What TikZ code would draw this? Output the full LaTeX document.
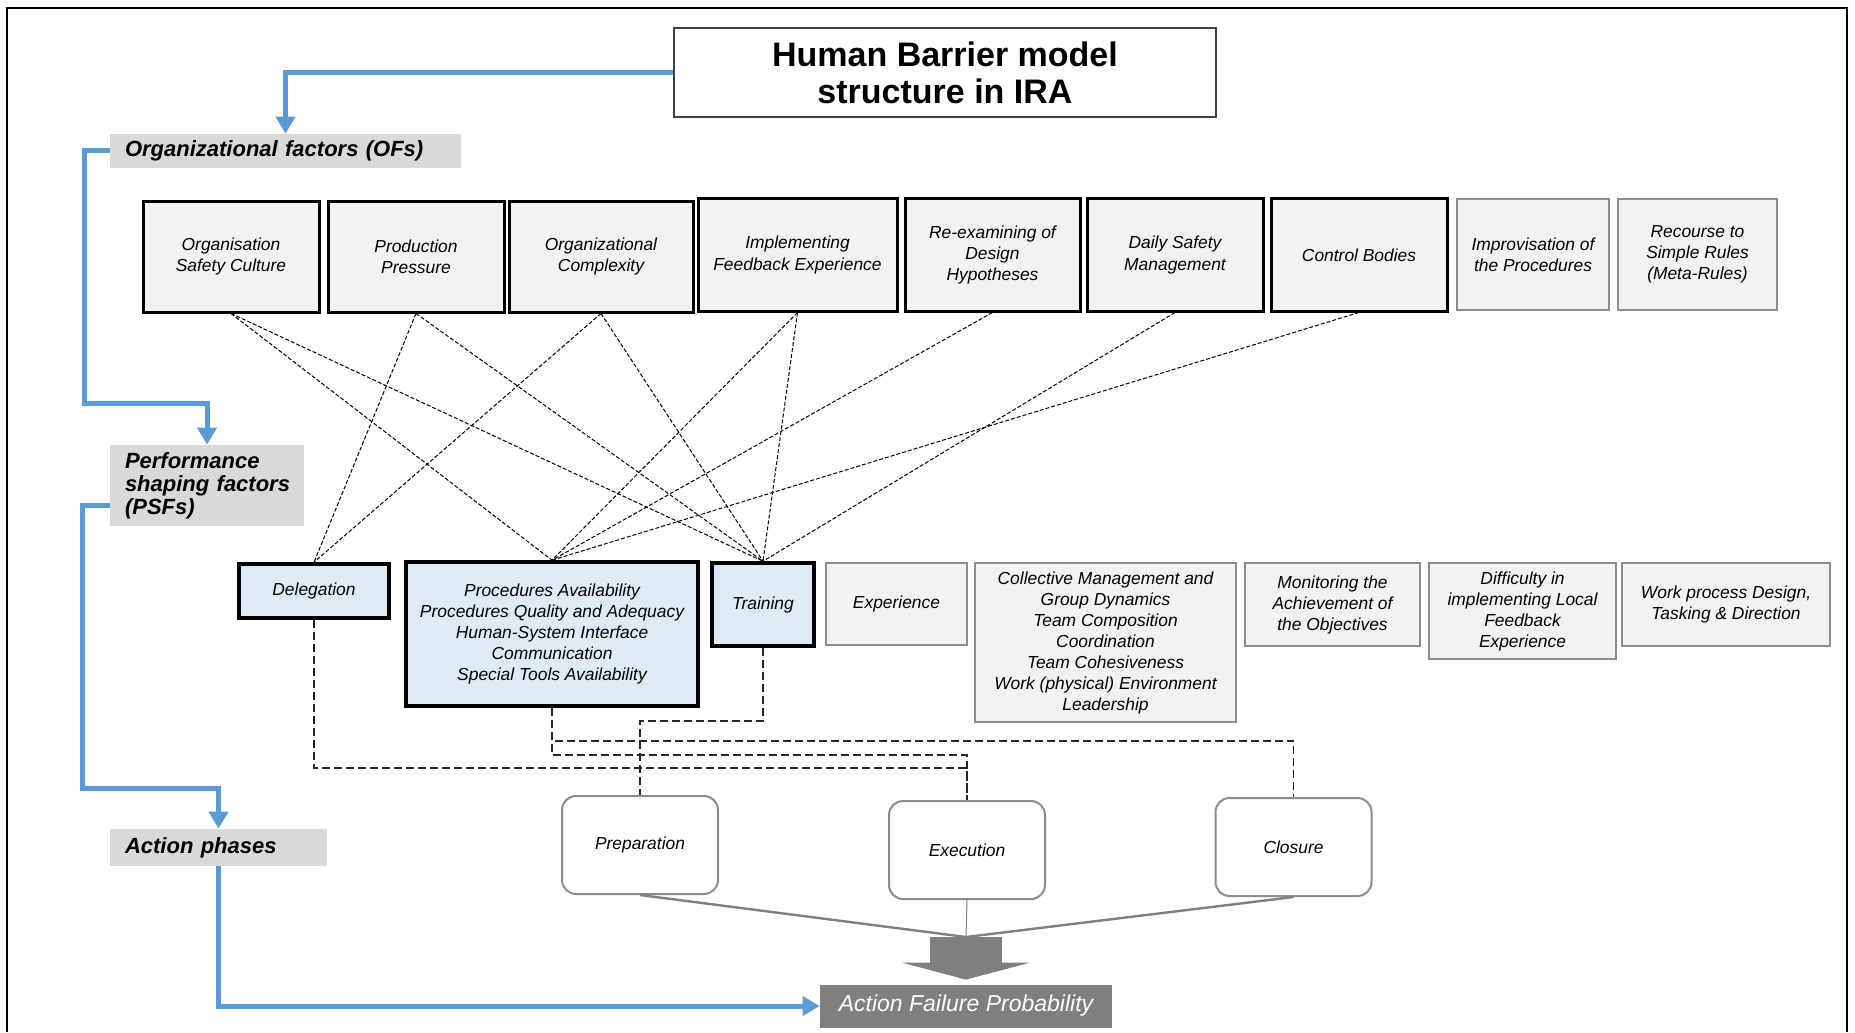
\documentclass[tikz,border=0pt]{standalone}
\usepackage{fontspec}
\setmainfont{Liberation Sans}
\setsansfont{Liberation Sans}
\usetikzlibrary{positioning,calc,arrows.meta}

\definecolor{hbblue}{HTML}{5B9BD5}
\definecolor{hbpale}{HTML}{DEEBF7}
\definecolor{hblight}{HTML}{F2F2F2}
\definecolor{hblabel}{HTML}{D9D9D9}
\definecolor{hbdark}{HTML}{7F7F7F}
\definecolor{hbedge}{HTML}{8C8C8C}

\newcommand{\hbsmall}{\fontsize{8.7pt}{10.5pt}\selectfont\itshape}
\newcommand{\hblabelfont}{\fontsize{11pt}{11.5pt}\selectfont\bfseries\itshape}
\newcommand{\hbtitlefont}{\fontsize{17pt}{18.5pt}\selectfont\bfseries}
\newcommand{\hbafpfont}{\fontsize{11.5pt}{13pt}\selectfont\itshape}

\tikzset{font=\sffamily,
	titlebox/.style={draw=black!75, line width=1pt, fill=white, font=\hbtitlefont, minimum width=271pt, minimum height=44.5pt},
	levellabel/.style={fill=hblabel, align=left, font=\hblabelfont, inner xsep=7.5pt},
	ofbox/.style={draw, line width=1.5pt, fill=hblight, font=\hbsmall},
	ofsoft/.style={ofbox, draw=hbedge, line width=1.2pt},
	psfbox/.style={draw, line width=1.8pt, fill=hbpale, font=\hbsmall},
	psfsoft/.style={draw=hbedge, line width=1.2pt, fill=hblight, font=\hbsmall},
	phasebox/.style={draw=hbedge, line width=1pt, rounded corners=7pt, fill=white, font=\hbsmall, minimum width=78pt, minimum height=49pt},
	afpbox/.style={fill=hbdark, text=white, font=\hbafpfont, minimum width=146pt, minimum height=21.5pt},
	flow/.style={draw=hbblue, line width=2.5pt, -{Triangle[width=9.5pt 0, length=8.5pt 0]}},
	link/.style={dash pattern=on 2pt off 1pt, line width=0.5pt},
	phaselink/.style={dash pattern=on 4pt off 2pt, line width=0.7pt, black!85},
	merge/.style={draw=hbdark, line width=1.2pt},
	bigarrow/.style={draw=hbdark, line width=36pt, -{Triangle[width=64pt 0, length=8.5pt 0]}, shorten >=2.25pt},
}

\begin{document}
\begin{tikzpicture}
	\begin{scope}[x=0.5pt, y=-0.5pt]
		\tikzstyle{every node}=[align=center, inner sep=1pt]
		\useasboundingbox (0,0) rectangle (1855,1032);
		\draw [line width=1pt] (7,1032) -- (7,8) -- (1847,8) -- (1847,1032);

		\node[titlebox] (title) at (945,72.5) {Human Barrier model\\structure in IRA};
		\node[levellabel, text width=160.5pt, minimum height=17pt] (ofl) at (285.5,151) {Organizational factors (OFs)};
		\node[levellabel, text width=82pt, minimum height=40.5pt] (psfl) at (207,485.5) {Performance\\\mbox{shaping factors}\\(PSFs)};
		\node[levellabel, text width=93.5pt, minimum height=18.5pt] (apl) at (218.5,847.5) {Action phases};

		\node[ofbox, minimum width=88pt, minimum height=55pt] (osc) at (231,257) {Organisation\\Safety Culture};
		\node[ofbox, minimum width=88pt, minimum height=55pt] (pp) at (416,257) {Production\\Pressure};
		\node[ofbox, minimum width=92pt, minimum height=55pt] (oc) at (601,257) {Organizational\\Complexity};
		\node[ofbox, minimum width=99.5pt, minimum height=56pt] (ife) at (797.5,255) {Implementing\\Feedback Experience};
		\node[ofbox, minimum width=87.5pt, minimum height=56pt] (rex) at (992.5,255) {Re-examining of\\Design\\Hypotheses};
		\node[ofbox, minimum width=88pt, minimum height=56pt] (dsm) at (1175,255) {Daily Safety\\Management};
		\node[ofbox, minimum width=88pt, minimum height=56pt] (cb) at (1359,255) {Control Bodies};
		\node[ofsoft, minimum width=76pt, minimum height=55.5pt] (imp) at (1533,254.5) {Improvisation of\\the Procedures};
		\node[ofsoft, minimum width=79.5pt, minimum height=55.5pt] (rec) at (1697.5,254.5) {Recourse to\\Simple Rules\\(Meta-Rules)};

		\node[psfbox, minimum width=75pt, minimum height=27pt] (deleg) at (314,591) {Delegation};
		\node[psfbox, minimum width=146pt, minimum height=72pt] (proc) at (552,634) {Procedures Availability\\Procedures Quality and Adequacy\\Human-System Interface\\Communication\\Special Tools Availability};
		\node[psfbox, minimum width=51pt, minimum height=41.5pt] (train) at (763,604.5) {Training};
		\node[psfsoft, minimum width=70.5pt, minimum height=41pt] (exp) at (896.5,604) {Experience};
		\node[psfsoft, minimum width=130.5pt, minimum height=79.5pt] (coll) at (1105.5,642.5) {Collective Management and\\Group Dynamics\\Team Composition\\Coordination\\Team Cohesiveness\\Work (physical) Environment\\Leadership};
		\node[psfsoft, minimum width=87.5pt, minimum height=41.5pt] (mon) at (1332.5,604.5) {Monitoring the\\Achievement of\\the Objectives};
		\node[psfsoft, minimum width=93.5pt, minimum height=48pt] (diff) at (1522.5,611) {Difficulty in\\implementing Local\\Feedback\\Experience};
		\node[psfsoft, minimum width=104pt, minimum height=41.5pt] (work) at (1726,604.5) {Work process Design,\\Tasking \& Direction};

		\node[phasebox] (prep) at (640,845) {Preparation};
		\node[phasebox] (exec) at (967,850) {Execution};
		\node[phasebox] (clos) at (1293.5,847) {Closure};

		\node[afpbox] (afp) at (966,1006) {Action Failure Probability};
		\coordinate (join) at (966,937);

		\draw [flow] (title.west) -| (ofl.north);
		\draw [flow] (ofl.west) -| (84,403) -| (psfl.north);
		\draw [flow] (psfl.west |- 0,505) -| (82,788) -| (apl.north);
		\draw [flow] (apl.south) |- (afp.west);

		\draw [link] (osc.south) to (proc.north);
		\draw [link] (osc.south) to (train.north);
		\draw [link] (pp.south) to (deleg.north);
		\draw [link] (pp.south) to (train.north);
		\draw [link] (oc.south) to (deleg.north);
		\draw [link] (oc.south) to (train.north);
		\draw [link] (ife.south) to (proc.north);
		\draw [link] (ife.south) to (train.north);
		\draw [link] (rex.south) to (proc.north);
		\draw [link] (dsm.south) to (train.north);
		\draw [link] (cb.south) to (proc.north);

		\draw [phaselink] (deleg.south) |- (exec.north |- 0,768) -- (exec.north);
		\draw [phaselink] (proc.south) |- (exec.north |- 0,755) -- (exec.north);
		\draw [phaselink] (proc.south) |- (clos.north |- 0,741) -- (clos.north);
		\draw [phaselink] (train.south) |- (prep.north |- 0,721) -- (prep.north);

		\draw [merge] (prep.south) to (join);
		\draw [merge, line width=0.5pt] (exec.south) to (join);
		\draw [merge] (clos.south) to (join);
		\draw [bigarrow] (join) to (afp.north);
	\end{scope}
\end{tikzpicture}
\end{document}
